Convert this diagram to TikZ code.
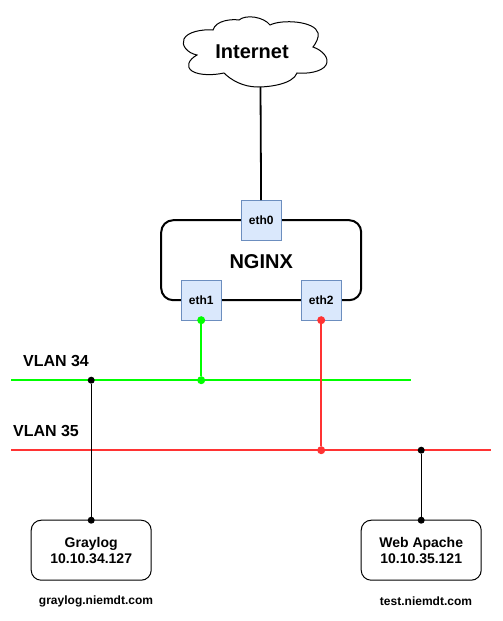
\documentclass[tikz,border=0pt]{standalone}
\usepackage{fontspec}
\setmainfont{Liberation Sans}
\usepackage{tikz}
\usetikzlibrary{positioning}

\definecolor{portfill}{HTML}{DAE8FC}
\definecolor{portline}{HTML}{6C8EBF}
\definecolor{vlangreen}{HTML}{00FF00}
\definecolor{vlanred}{HTML}{FF3333}

\begin{document}
\begin{tikzpicture}[x=1pt,y=-1pt,node distance=10pt,
        every node/.style={font=\bfseries,outer sep=0pt},
        router/.style={draw,line width=2pt,rounded corners=12pt,minimum width=200pt,minimum height=80pt,inner sep=0pt,text height=16pt,text depth=0pt,font=\bfseries\fontsize{20}{24}\selectfont},
        port/.style={draw=portline,fill=portfill,line width=0.8pt,minimum size=40pt,inner sep=0pt,font=\bfseries\fontsize{12}{14}\selectfont},
        server/.style={draw,line width=1pt,rounded corners=10pt,minimum width=120pt,minimum height=60pt,inner sep=0pt,align=center,font=\bfseries\fontsize{14}{16}\selectfont},
        vlan/.style={inner sep=0pt,font=\bfseries\fontsize{16}{18}\selectfont},
        url/.style={inner sep=0pt,font=\bfseries\fontsize{12}{14}\selectfont},
        dot/.style={circle,fill=#1,minimum size=7pt,inner sep=0pt}]
    \useasboundingbox (0,0) rectangle (503,621);

    % cloud
    \draw[line width=1pt] (213,30)
        .. controls (216,20) and (232,19) .. (239,20)
        .. controls (246,14) and (264,17) .. (270,25)
        .. controls (282,19) and (315,21) .. (318,33)
        .. controls (319,38) and (316,43) .. (313,47)
        .. controls (322,50) and (330,58) .. (326,65)
        .. controls (322,72) and (307,74) .. (297,73)
        .. controls (293,84) and (270,87) .. (258,87)
        .. controls (243,87) and (231,80) .. (224,73)
        .. controls (215,75) and (200,76) .. (192,71)
        .. controls (186,67) and (188,60) .. (197,55)
        .. controls (187,53) and (181,45) .. (184,39)
        .. controls (187,32) and (202,29) .. (213,30) -- cycle;
    \node[inner sep=0pt,font=\bfseries\fontsize{20}{24}\selectfont] (internet) at (252,52) {Internet};
    \coordinate (cloudbottom) at (260.5,87);

    \node[router] (nginx) at (261.2,260.2) {NGINX};
    \node[port] (eth0) at (261.2,220.2) {eth0};
    \node[port] (eth1) at (201.2,300.2) {eth1};
    \node[port] (eth2) [right=80pt of eth1] {eth2};

    \draw[line width=1.8pt] (cloudbottom) -- (eth0);

    % vlans
    \coordinate (v34start) at (11,380.2);
    \coordinate (v34end) at (411,380.2);
    \coordinate (v35start) at (11,450.2);
    \coordinate (v35end) at (491,450.2);
    \draw[vlangreen,line width=2pt] (v34start) -- (v34end);
    \draw[vlanred,line width=2pt] (v35start) -- (v35end);
    \node[vlan] (vlan34) at (56,361) {VLAN 34};
    \node[vlan] (vlan35) at (46,431) {VLAN 35};

    \node[server] (graylog) at (91.2,550.2) {Graylog\\10.10.34.127};
    \node[server] (apache) [right=210pt of graylog] {Web Apache\\10.10.35.121};
    \node[url] (graylogurl) at (96,601) {graylog.niemdt.com};
    \node[url] (apacheurl) at (426,601) {test.niemdt.com};

    % taps
    \node[dot=vlangreen,minimum size=8pt] (eth1dot) at (eth1.south) {};
    \node[dot=vlangreen,minimum size=8pt] (v34dot) at (eth1 |- v34start) {};
    \node[dot=vlanred,minimum size=8pt] (eth2dot) at (eth2.south) {};
    \node[dot=vlanred,minimum size=8pt] (v35dot) at (eth2 |- v35start) {};
    \node[dot=black] (graytop) at (graylog |- v34start) {};
    \node[dot=black] (graybot) at (graylog.north) {};
    \node[dot=black] (webtop) at (apache |- v35start) {};
    \node[dot=black] (webbot) at (apache.north) {};

    \draw[vlangreen,line width=2pt] (eth1dot) -- (v34dot);
    \draw[vlanred,line width=2pt] (eth2dot) -- (v35dot);
    \draw[line width=1pt] (graytop) -- (graybot);
    \draw[line width=1pt] (webtop) -- (webbot);
\end{tikzpicture}
\end{document}
